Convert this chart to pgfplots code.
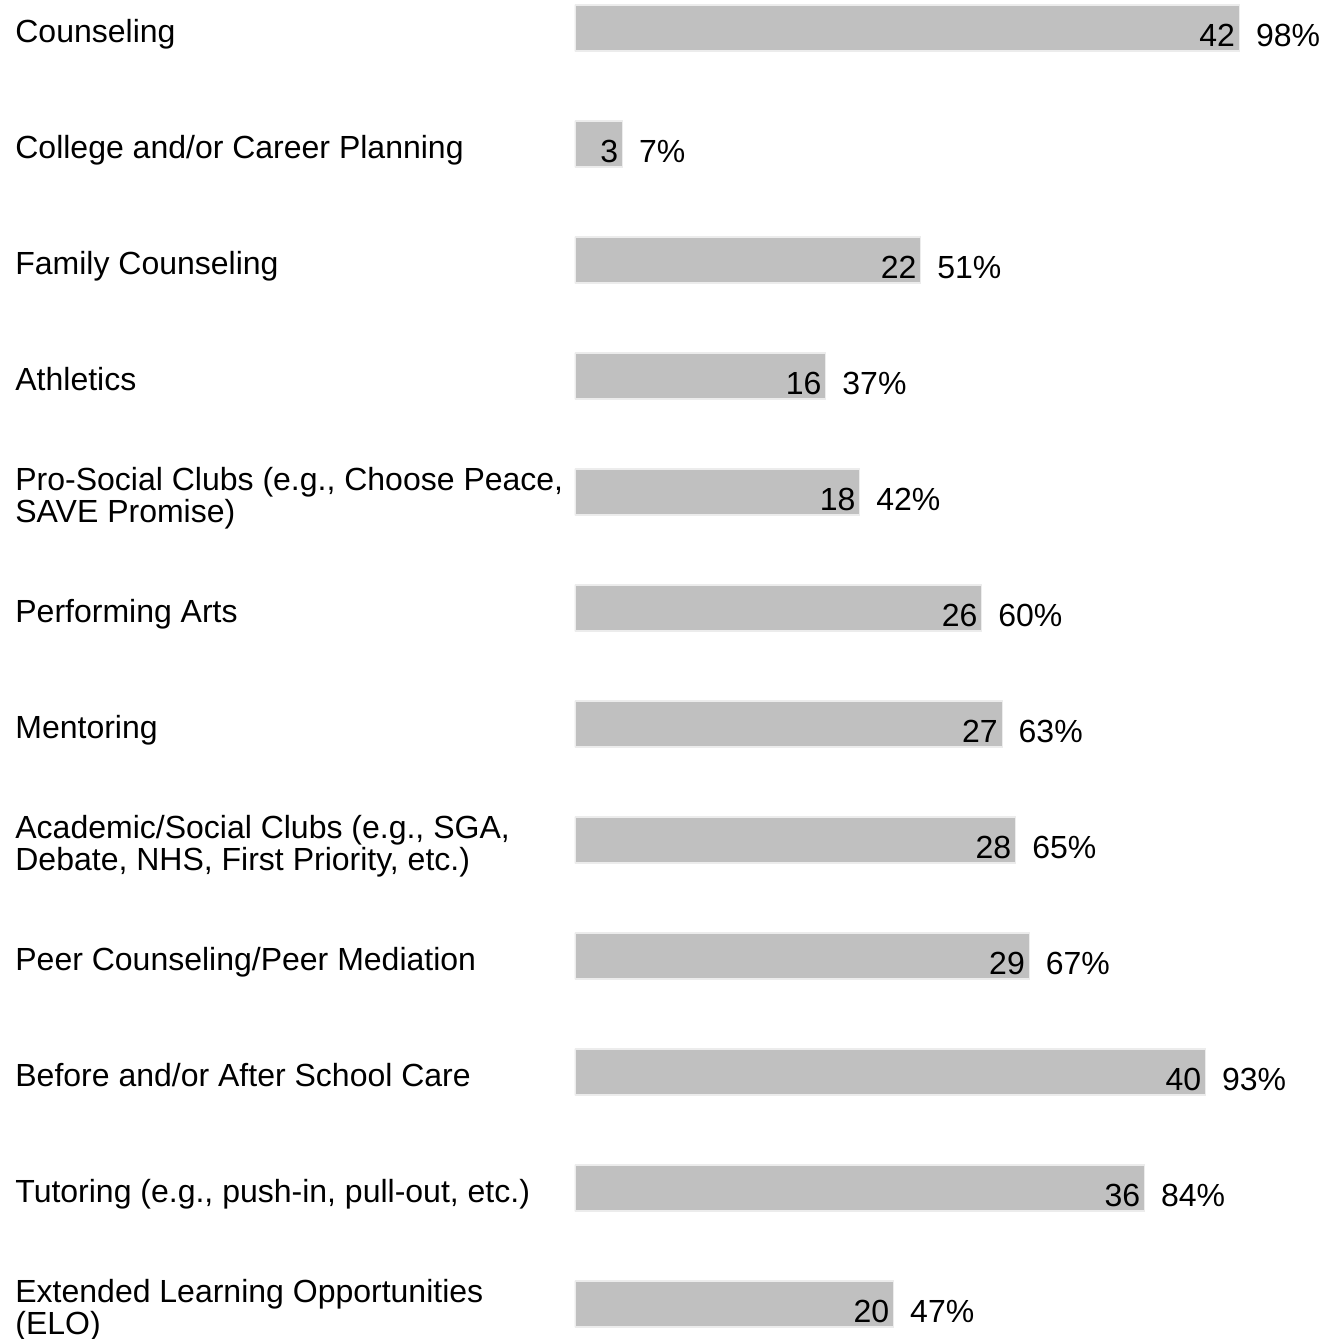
\documentclass[border=0pt]{standalone}
\usepackage{fontspec}
\setmainfont{Liberation Sans}
\usepackage{pgfplots}
\usepackage{pgfplotstable}
\pgfplotsset{compat=1.18}

\definecolor{barfill}{RGB}{192,192,192}
\definecolor{baredge}{RGB}{236,236,236}

% count out of 43 respondents, share in percent (bar length)
\pgfplotstableread{
idx count pct
0  42 98
1  3  7
2  22 51
3  16 37
4  18 42
5  26 60
6  27 63
7  28 65
8  29 67
9  40 93
10 36 84
11 20 47
}\services

\newcommand{\two}[2]{\raisebox{8pt}{\begin{tabular}[t]{@{}l@{}}#1\\#2\end{tabular}}}

\begin{document}
\begin{tikzpicture}
\path[use as bounding box] (-287.5pt,0pt) rectangle (373.5pt,669.5pt);
\begin{axis}[
    scale only axis,
    width=373.5pt, height=669.5pt,
    xmin=0, xmax=110.18,
    ymin=-0.2414, ymax=11.3017,
    y dir=reverse,
    xbar,
    bar width=23pt,
    axis line style={draw=none},
    major tick length=0pt,
    xtick=\empty,
    ytick={0,...,11},
    yticklabels={
        {Counseling},
        {College and/or Career Planning},
        {Family Counseling},
        {Athletics},
        {\two{Pro-Social Clubs (e.g., Choose Peace,}{SAVE Promise)}},
        {Performing Arts},
        {Mentoring},
        {\two{Academic/Social Clubs (e.g., SGA,}{Debate, NHS, First Priority, etc.)}},
        {Peer Counseling/Peer Mediation},
        {Before and/or After School Care},
        {Tutoring (e.g., push-in, pull-out, etc.)},
        {\two{Extended Learning Opportunities}{(ELO)}},
    },
    yticklabel style={anchor=base west, inner sep=0pt, xshift=-280pt, yshift=-7pt,
        font=\fontsize{16}{15.5}\selectfont},
    /pgf/number format/assume math mode=true,
    point meta=x,
    visualization depends on={\thisrow{count}\as\cnt},
    nodes near coords={\raisebox{-9.3pt}[0pt][0pt]{\makebox[0pt][r]{\pgfmathprintnumber{\cnt}\hspace{3pt}}\makebox[0pt][l]{\hspace{7.5pt}\pgfmathprintnumber{\pgfplotspointmeta}\%}}},
    every node near coord/.append style={inner sep=0pt, font=\fontsize{16}{15.5}\selectfont},
]
\addplot[fill=barfill, draw=baredge, line width=0.6pt] table[x=pct, y=idx] {\services};
\end{axis}
\end{tikzpicture}
\end{document}
